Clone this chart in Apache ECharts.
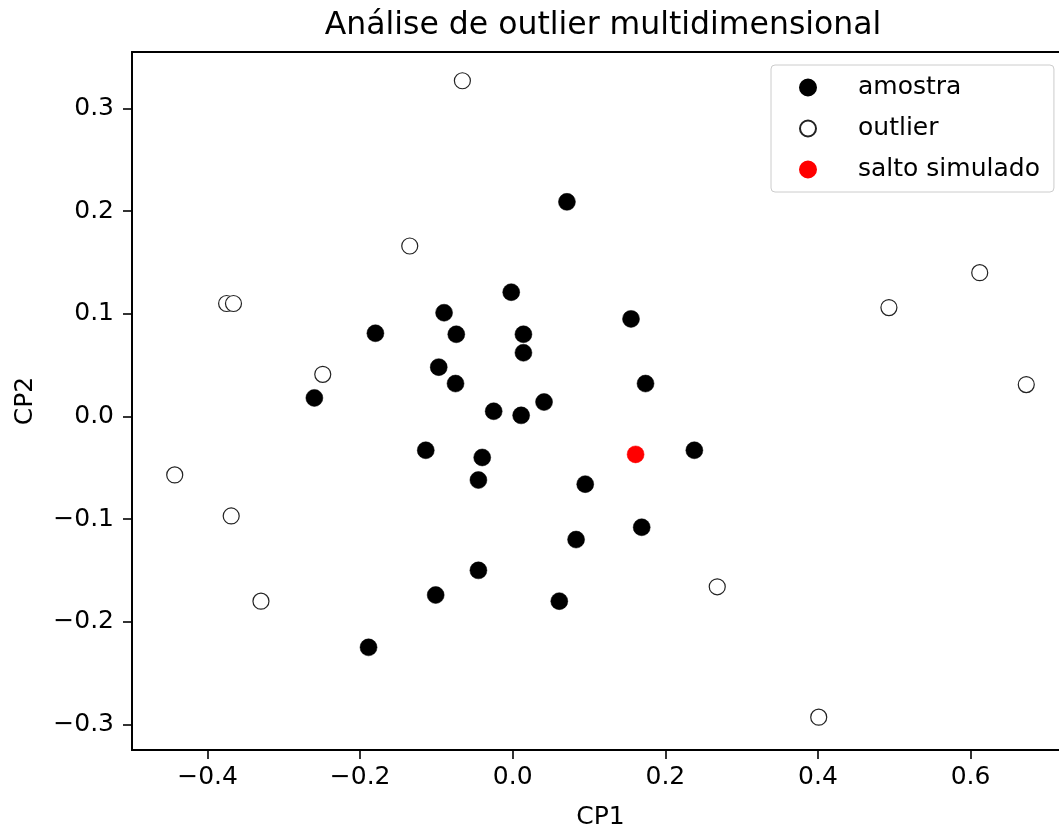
<!DOCTYPE html>
<html>
<head>
<meta charset="utf-8">
<script src="https://cdn.jsdelivr.net/npm/echarts@6/dist/echarts.min.js"></script>
<style>
  html, body { margin: 0; padding: 0; background: #fff; }
  #chart { width: 1059px; height: 827px; }
</style>
</head>
<body>
<div id="chart"></div>
<script>
// Principal-component scores (CP1, CP2) of each observation
const sampleX = [0.071, -0.002, -0.090, -0.180, -0.074, 0.014, 0.014, 0.155, -0.097, -0.075, 0.174, -0.260, -0.025, 0.011, 0.041, -0.114, -0.040, 0.238, -0.045, 0.095, 0.169, 0.083, -0.045, -0.101, 0.061, -0.189];
const sampleY = [0.209, 0.121, 0.101, 0.081, 0.080, 0.080, 0.062, 0.095, 0.048, 0.032, 0.032, 0.018, 0.005, 0.001, 0.014, -0.033, -0.040, -0.033, -0.062, -0.066, -0.108, -0.120, -0.150, -0.174, -0.180, -0.225];

const outlierX = [-0.066, -0.135, -0.375, -0.366, -0.249, -0.443, -0.369, -0.330, 0.268, 0.401, 0.493, 0.612, 0.673];
const outlierY = [0.327, 0.166, 0.110, 0.110, 0.041, -0.057, -0.097, -0.180, -0.166, -0.293, 0.106, 0.140, 0.031];

const jumpX = [0.161];
const jumpY = [-0.037];

const seriesNames = ['amostra', 'outlier', 'salto simulado'];
const titleText = 'Análise de outlier multidimensional';
const xName = 'CP1';
const yName = 'CP2';

const xRange = [-0.499, 0.729];
const yRange = [-0.325, 0.355];

const pairs = (xs, ys) => xs.map((x, i) => [x, ys[i]]);
const fmt = v => v.toFixed(1).replace('-', '\u2212');
const FONT = 'DejaVu Sans';

const chart = echarts.init(document.getElementById('chart'), null, { renderer: 'canvas' });

const axisCommon = {
  type: 'value',
  nameLocation: 'middle',
  nameTextStyle: { fontFamily: FONT, fontSize: 25, color: '#000' },
  axisLine: { show: true, onZero: false, lineStyle: { color: '#000', width: 1.8 } },
  axisTick: { show: true, inside: false, length: 9, lineStyle: { color: '#000', width: 1.6 } },
  splitLine: { show: false },
  axisLabel: {
    fontFamily: FONT, fontSize: 25, color: '#000',
    showMinLabel: false, showMaxLabel: false,
    formatter: fmt
  }
};

chart.setOption({
  animation: false,
  backgroundColor: '#fff',
  title: {
    text: titleText,
    left: 598,
    textAlign: 'center',
    top: 5,
    textStyle: { fontFamily: FONT, fontSize: 31.5, fontWeight: 'normal', color: '#000' }
  },
  grid: {
    left: 132, top: 52, width: 937, height: 698,
    show: true, borderColor: '#000', borderWidth: 1.8,
    outerBoundsMode: 'none',
    containLabel: false
  },
  xAxis: Object.assign({}, axisCommon, {
    name: xName,
    nameGap: 55,
    min: xRange[0], max: xRange[1],
    minInterval: 0.2, maxInterval: 0.2,
    axisLabel: Object.assign({}, axisCommon.axisLabel, { margin: 15 })
  }),
  yAxis: Object.assign({}, axisCommon, {
    name: yName,
    nameGap: 94,
    min: yRange[0], max: yRange[1],
    minInterval: 0.1, maxInterval: 0.1,
    axisLabel: Object.assign({}, axisCommon.axisLabel, { margin: 18 })
  }),
  legend: {
    orient: 'vertical',
    left: 771,
    top: 65,
    padding: [10, 14, 10, 28],
    itemWidth: 16,
    itemHeight: 16,
    itemGap: 16,
    backgroundColor: 'rgba(255,255,255,0.8)',
    borderColor: '#cccccc',
    borderWidth: 1,
    borderRadius: 4,
    textStyle: { fontFamily: FONT, fontSize: 25, color: '#000', lineHeight: 24, padding: [0, 0, 0, 37] },
    data: seriesNames.map(n => ({ name: n, icon: 'circle' }))
  },
  series: [
    {
      name: seriesNames[0],
      type: 'scatter',
      symbol: 'circle',
      symbolSize: 17,
      itemStyle: { color: '#000', borderColor: '#000', borderWidth: 0.5, opacity: 1 },
      data: pairs(sampleX, sampleY)
    },
    {
      name: seriesNames[1],
      type: 'scatter',
      symbol: 'circle',
      symbolSize: 16,
      itemStyle: { color: '#fff', borderColor: '#222', borderWidth: 1.2, opacity: 1 },
      data: pairs(outlierX, outlierY)
    },
    {
      name: seriesNames[2],
      type: 'scatter',
      symbol: 'circle',
      symbolSize: 17,
      itemStyle: { color: '#ff0000', borderColor: '#ff0000', borderWidth: 0.5, opacity: 1 },
      data: pairs(jumpX, jumpY)
    }
  ]
});
</script>
</body>
</html>
